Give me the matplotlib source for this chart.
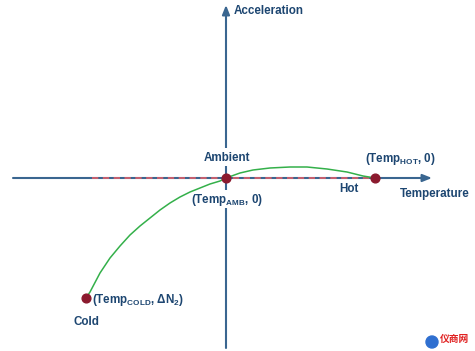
import matplotlib
matplotlib.use('Agg')
import matplotlib.pyplot as plt
from matplotlib.patches import Circle

plt.rcParams['font.family'] = ['Liberation Sans', 'DejaVu Sans']
plt.rcParams['mathtext.fontset'] = 'custom'
plt.rcParams['mathtext.rm'] = 'Liberation Sans:bold'
plt.rcParams['mathtext.it'] = 'Liberation Sans:bold'
plt.rcParams['mathtext.bf'] = 'Liberation Sans:bold'

# key points: (temperature offset from ambient, acceleration)
point_names = ['Cold', 'Ambient', 'Hot']
point_temp = [-140, 0, 149]
point_accel = [-120, 0, 0]

# acceleration vs temperature curve
curve_temp = [-140, -136, -126, -116, -106, -96, -86, -76, -66, -56, -46, -36,
              -26, -16, -6, 0, 14, 27, 44, 64, 81, 101, 121, 137, 149]
curve_accel = [-120, -114, -95, -80, -68, -57, -48, -40, -32, -25, -19, -14,
               -10, -6, -3, 0, 5, 8, 10, 11, 11, 9, 6, 2, 0]

axis_c = '#3a6690'
text_c = '#1d4671'
dot_c = '#8b1a2e'
green = '#34b04a'
dash_c = '#d4606c'

fig = plt.figure(figsize=(4.75, 3.51), dpi=100)
ax = fig.add_axes([0, 0, 1, 1])
ax.set_xlim(-226, 249)
ax.set_ylim(-173, 178)
ax.axis('off')

# axes with arrow heads
arrow = dict(arrowstyle='-|>,head_length=0.55,head_width=0.22', color=axis_c,
             lw=1.5, shrinkA=0, shrinkB=0)
ax.annotate('', xy=(206, 0), xytext=(-213, 0), arrowprops=arrow, zorder=1)
ax.annotate('', xy=(0, 173), xytext=(0, -170), arrowprops=arrow, zorder=1)
# gaps in the vertical axis behind the labels
ax.plot([0, 0], [12, 30], color='white', lw=3, zorder=1.5, solid_capstyle='butt')
ax.plot([0, 0], [-12, -30], color='white', lw=3, zorder=1.5, solid_capstyle='butt')

# red dashed reference line along the temperature axis
ax.plot([point_temp[0] + 6, point_temp[2]], [0, 0], color=dash_c, lw=1.3,
        dashes=(3.5, 2.5), zorder=2)

ax.plot(curve_temp, curve_accel, color=green, lw=1.1, zorder=3)
ax.plot(point_temp, point_accel, 'o', color=dot_c, markersize=6.3, zorder=4)

kw = dict(color=text_c, fontsize=8.4, fontweight='bold')
ax.text(8, 167, 'Acceleration', ha='left', va='center', **kw)
ax.text(1, 20, 'Ambient', ha='center', va='center', **kw)
ax.text(1, -22, r'(Temp$_{\mathrm{AMB}}$, 0)', ha='center', va='center', **kw)
ax.text(174, 19, r'(Temp$_{\mathrm{HOT}}$, 0)', ha='center', va='center', **kw)
ax.text(123, -11, 'Hot', ha='center', va='center', **kw)
ax.text(209, -16, 'Temperature', ha='center', va='center', **kw)
ax.text(-134, -122, r'(Temp$_{\mathrm{COLD}}$, $\Delta$N$_2$)', ha='left', va='center', **kw)
ax.text(-140, -144, 'Cold', ha='center', va='center', **kw)

# watermark
ax.add_patch(Circle((206, -164), 6, color='#2f6fd0', zorder=5))
ax.text(214, -161, '仪商网', family=['Noto Sans CJK SC', 'DejaVu Sans'],
        color='#e02020', fontsize=7, fontweight='bold', ha='left', va='center')

fig.savefig('out.png', dpi=100)
